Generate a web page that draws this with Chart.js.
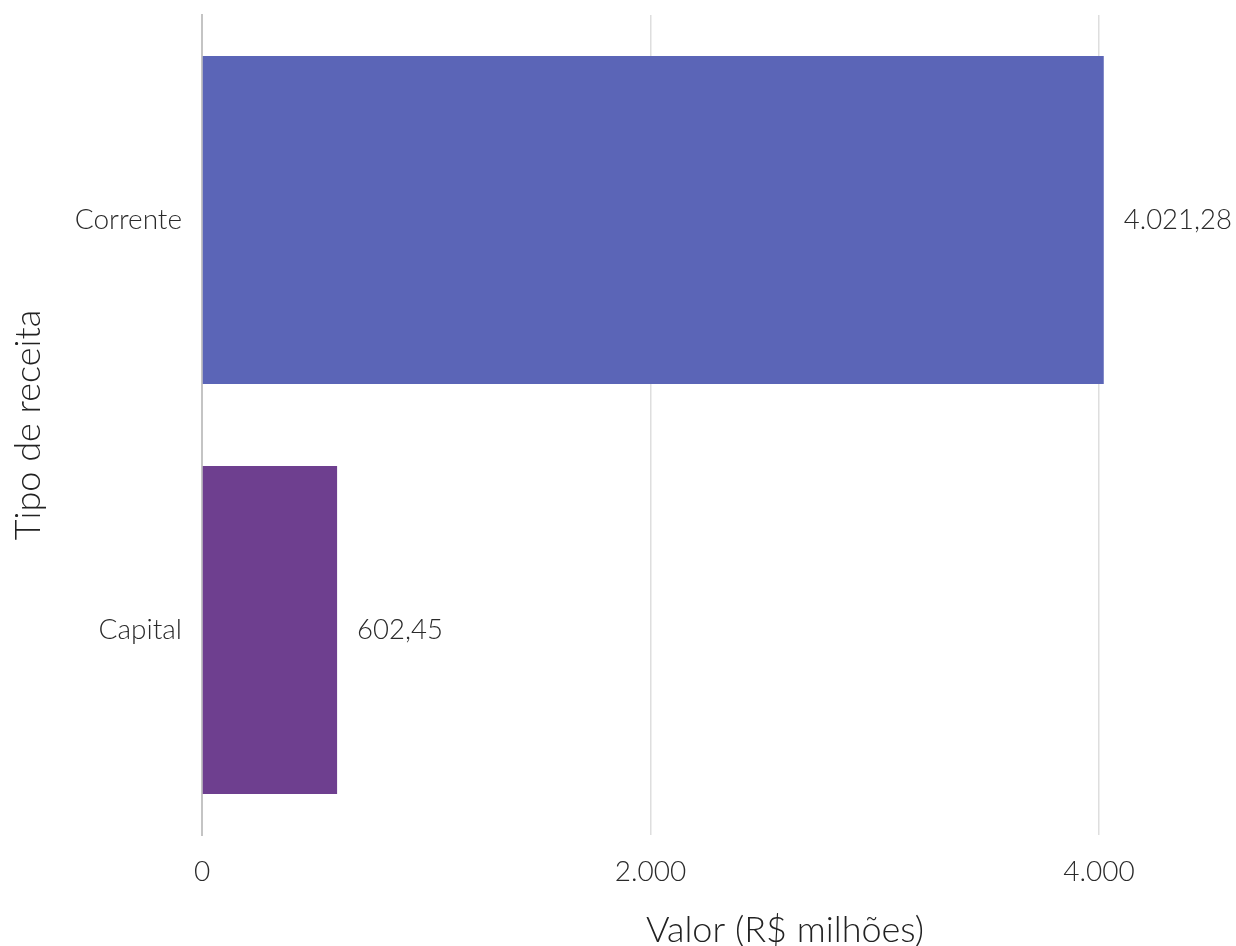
<!DOCTYPE html>
<html>
<head>
<meta charset="utf-8">
<script src="https://cdn.jsdelivr.net/npm/chart.js@4/dist/chart.umd.min.js"></script>
<style>
  html, body { margin: 0; padding: 0; background: #fff; }
  #wrap { width: 1236px; height: 946px; }
</style>
</head>
<body>
<div id="wrap"><canvas id="chart" width="1236" height="946"></canvas></div>
<script>
const categorias = ['Corrente', 'Capital'];
const valores = [4021.28, 602.45];
const cores = ['#5b65b7', '#6e3f8f'];
const xTicks = [0, 2000, 4000];
const tituloX = 'Valor (R$ milhões)';

// formato pt-BR: 4.021,28
function fmtBR(v, dec) {
    const parts = v.toFixed(dec).split('.');
    parts[0] = parts[0].replace(/\B(?=(\d{3})+(?!\d))/g, '.');
    return parts.join(',');
}

const fonte = "Lato, 'Open Sans', sans-serif";

// rótulos de valor ao lado das barras + título do eixo x (deslocado como no original)
const rotulos = {
    id: 'rotulos',
    afterDatasetsDraw(chart) {
        const ctx = chart.ctx;
        const meta = chart.getDatasetMeta(0);
        ctx.save();
        ctx.font = '300 27.5px ' + fonte;
        ctx.fillStyle = '#2a2a2a';
        ctx.textBaseline = 'middle';
        ctx.textAlign = 'left';
        meta.data.forEach((bar, i) => {
            ctx.fillText(fmtBR(valores[i], 2), bar.x + 20, bar.y);
        });
        ctx.restore();
    },
    afterDraw(chart) {
        const ctx = chart.ctx;
        const xs = chart.scales.x;
        ctx.save();
        ctx.font = '300 36px ' + fonte;
        ctx.fillStyle = '#222';
        ctx.textAlign = 'center';
        ctx.textBaseline = 'middle';
        const cx = xs.getPixelForValue(0) + (xs.getPixelForValue(4000) - xs.getPixelForValue(0)) * 0.65;
        ctx.fillText(tituloX, cx, xs.bottom - 16);
        ctx.restore();
    }
};

document.addEventListener('DOMContentLoaded', () => {
    const ctx = document.getElementById('chart');
    new Chart(ctx, {
        type: 'bar',
        data: {
            labels: categorias,
            datasets: [{
                data: valores,
                backgroundColor: cores,
                borderWidth: 0,
                barPercentage: 0.8,
                categoryPercentage: 1.0
            }]
        },
        options: {
            indexAxis: 'y',
            responsive: false,
            animation: false,
            layout: { padding: { top: 15, right: 0, bottom: 0, left: 0 } },
            plugins: {
                legend: { display: false },
                tooltip: { enabled: false }
            },
            scales: {
                x: {
                    min: 0,
                    max: 4611,
                    afterBuildTicks: (scale) => {
                        scale.ticks = xTicks.map(v => ({ value: v }));
                    },
                    afterFit: (scale) => {
                        scale.height = 111;
                        scale.paddingLeft = 0;
                        scale.paddingRight = 0;
                    },
                    grid: {
                        color: (c) => (c.tick && c.tick.value === 0) ? 'rgba(0,0,0,0)' : '#dedede',
                        lineWidth: 1.5,
                        drawTicks: false
                    },
                    border: { display: false },
                    ticks: {
                        padding: 20,
                        maxRotation: 0,
                        color: '#2a2a2a',
                        font: { family: fonte, size: 28, weight: 300 },
                        callback: (v) => fmtBR(v, 0)
                    },
                    title: { display: false }
                },
                y: {
                    afterFit: (scale) => {
                        scale.width = 202;
                        scale.paddingTop = 0;
                        scale.paddingBottom = 0;
                    },
                    grid: { display: false, drawTicks: false },
                    border: { display: true, color: '#c4c4c4', width: 2 },
                    ticks: {
                        padding: 20,
                        color: '#2a2a2a',
                        font: { family: fonte, size: 28, weight: 300 }
                    },
                    title: {
                        display: true,
                        text: 'Tipo de receita',
                        color: '#222',
                        font: { family: fonte, size: 36, weight: 300, lineHeight: 1 },
                        padding: { top: 10, bottom: 0 }
                    }
                }
            }
        },
        plugins: [rotulos]
    });
});
</script>
</body>
</html>
